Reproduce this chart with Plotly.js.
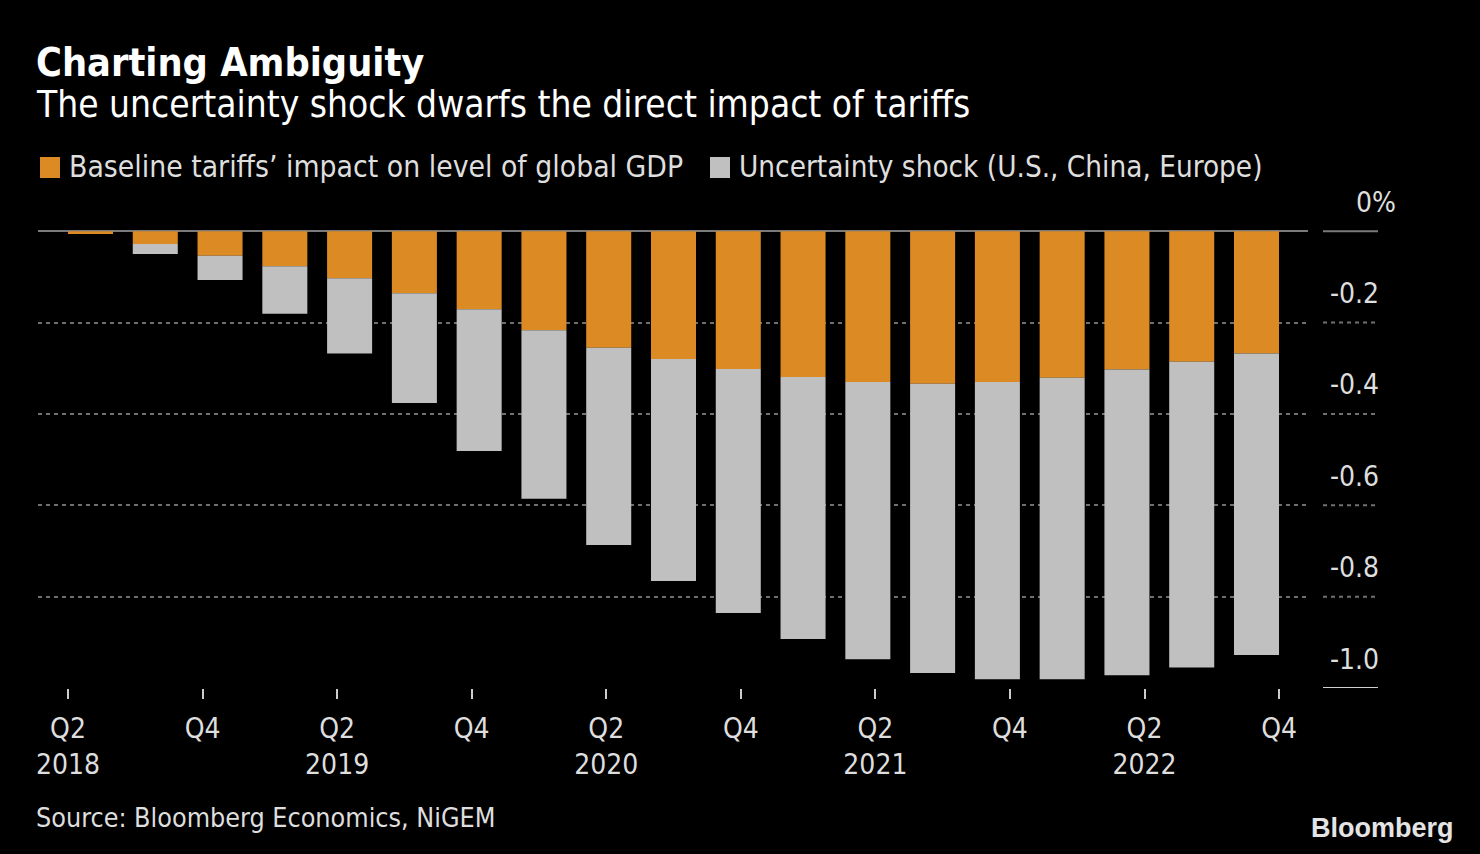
<!DOCTYPE html>
<html>
<head>
<meta charset="utf-8">
<script src="https://cdn.plot.ly/plotly-3.0.1.min.js"></script>
<style>
  html, body { margin: 0; padding: 0; background: #000; }
  #chart { width: 1480px; height: 854px; }
</style>
</head>
<body>
<div id="chart"></div>
<script>
// ---- data ----
const quarters = ["Q2 2018","Q3 2018","Q4 2018","Q1 2019","Q2 2019","Q3 2019","Q4 2019",
                  "Q1 2020","Q2 2020","Q3 2020","Q4 2020","Q1 2021","Q2 2021","Q3 2021",
                  "Q4 2021","Q1 2022","Q2 2022","Q3 2022","Q4 2022"];
const tariffImpact = [-0.006,-0.028,-0.054,-0.077,-0.103,-0.136,-0.171,-0.217,-0.255,-0.280,
                      -0.302,-0.319,-0.330,-0.334,-0.330,-0.321,-0.303,-0.286,-0.268];
const uncertaintyShock = [0.000,-0.022,-0.053,-0.104,-0.165,-0.240,-0.310,-0.369,-0.432,-0.486,
                          -0.534,-0.574,-0.607,-0.633,-0.651,-0.660,-0.669,-0.669,-0.660];
const seriesNames = ["Baseline tariffs\u2019 impact on level of global GDP",
                     "Uncertainty shock (U.S., China, Europe)"];
const xTickIndex = [0,2,4,6,8,10,12,14,16,18];
const xTickText = ["Q2<br>2018","Q4","Q2<br>2019","Q4","Q2<br>2020","Q4","Q2<br>2021","Q4","Q2<br>2022","Q4"];
const yTickVals = [0,-0.2,-0.4,-0.6,-0.8,-1.0];
const yTickText = ["0%","-0.2","-0.4","-0.6","-0.8","-1.0"];

// ---- style ----
const ORANGE = "#dc8b24";
const GREY = "#c0c0c0";
const TEXT = "#dedede";
const FONT = "DejaVu Sans Condensed, DejaVu Sans, sans-serif";

const W = 1480, H = 854;
const M = {l: 38, r: 172, t: 222, b: 166};
const plotW = W - M.l - M.r, plotH = H - M.t - M.b;
const px = v => (v - M.l) / plotW;          // pixel x -> paper x
const py = v => (H - M.b - v) / plotH;      // pixel y -> paper y

const xIdx = quarters.map((q, i) => i);

const traces = [
  {type: "bar", x: xIdx, y: tariffImpact, name: seriesNames[0],
   marker: {color: ORANGE, line: {width: 0}}, showlegend: false, hoverinfo: "skip"},
  {type: "bar", x: xIdx, y: uncertaintyShock, name: seriesNames[1],
   marker: {color: GREY, line: {width: 0}}, showlegend: false, hoverinfo: "skip"},
  {type: "scatter", x: [], y: [], xaxis: "x2", yaxis: "y", showlegend: false, hoverinfo: "skip"}
];

const shapes = [];
const annotations = [];

// y tick labels and short rules at the right
yTickVals.forEach((v, i) => {
  annotations.push({xref: "paper", yref: "y", x: px(v === 0 ? 1398 : 1381), y: v, yshift: 29,
    xanchor: "right", yanchor: "middle", text: yTickText[i], showarrow: false,
    font: {family: FONT, size: 28, color: TEXT}});
  let col = "#707070", dash = "4px,4px";
  if (v === 0) { col = "#7a7a7a"; dash = "solid"; }
  if (v === -1.0) { col = "#cfcfcf"; dash = "solid"; }
  shapes.push({type: "line", xref: "paper", yref: "y", x0: px(1323), x1: px(1378), y0: v, y1: v,
    line: {color: col, width: 2, dash: dash}});
});

// legend
const legendColors = [ORANGE, GREY];
const legendX = [40, 710];
const legendSize = [29.8, 29.4];
seriesNames.forEach((n, i) => {
  shapes.push({type: "rect", xref: "paper", yref: "paper",
    x0: px(legendX[i]), x1: px(legendX[i] + 20), y0: py(178), y1: py(157),
    fillcolor: legendColors[i], line: {width: 0}});
  annotations.push({xref: "paper", yref: "paper", x: px(legendX[i] + 27), y: py(167),
    xanchor: "left", yanchor: "middle", text: n, showarrow: false,
    font: {family: FONT, size: legendSize[i], color: TEXT}});
});

// subtitle
annotations.push({xref: "paper", yref: "paper", x: px(34), y: py(104),
  xanchor: "left", yanchor: "middle", showarrow: false,
  text: "The uncertainty shock dwarfs the direct impact of tariffs",
  font: {family: FONT, size: 36.8, color: "#ffffff"}});
// source
annotations.push({xref: "paper", yref: "paper", x: px(34), y: py(817),
  xanchor: "left", yanchor: "middle", showarrow: false,
  text: "Source: Bloomberg Economics, NiGEM",
  font: {family: FONT, size: 26.7, color: TEXT}});
// logo
annotations.push({xref: "paper", yref: "paper", x: px(1456), y: py(828),
  xanchor: "right", yanchor: "middle", showarrow: false,
  text: "<b>Bloomberg</b>",
  font: {family: "Liberation Sans, Arial, sans-serif", size: 27, color: "#e4e4e4"}});

const layout = {
  width: W, height: H,
  paper_bgcolor: "#000", plot_bgcolor: "#000",
  margin: M,
  barmode: "relative",
  bargap: 0.305,
  showlegend: false,
  title: {text: "<b>Charting Ambiguity</b>", x: 36 / W, xref: "container", xanchor: "left",
          y: 1 - 62 / H, yref: "container", yanchor: "middle",
          font: {family: FONT, size: 39.3, color: "#ffffff"}},
  xaxis: {range: [-0.8104, 18.795], showticklabels: false, showgrid: false, zeroline: false,
          ticks: "", fixedrange: true},
  xaxis2: {overlaying: "x", anchor: "y", side: "bottom", range: [-0.4459, 18.43],
           tickmode: "array", tickvals: xTickIndex, ticktext: xTickText,
           ticks: "outside", ticklen: 10, tickwidth: 2, tickcolor: "#cccccc",
           ticklabelstandoff: 5,
           showgrid: false, zeroline: false, showline: false,
           tickfont: {family: FONT, size: 28, color: TEXT}},
  yaxis: {range: [-1.0, 0.02], tickmode: "array", tickvals: [-0.2,-0.4,-0.6,-0.8],
          showticklabels: false, ticks: "",
          showgrid: true, gridcolor: "#707070", gridwidth: 2, griddash: "4px,4px",
          zeroline: true, zerolinecolor: "#7a7a7a", zerolinewidth: 2, showline: false},
  shapes: shapes,
  annotations: annotations
};

Plotly.newPlot("chart", traces, layout, {displayModeBar: false, staticPlot: true});
</script>
</body>
</html>
